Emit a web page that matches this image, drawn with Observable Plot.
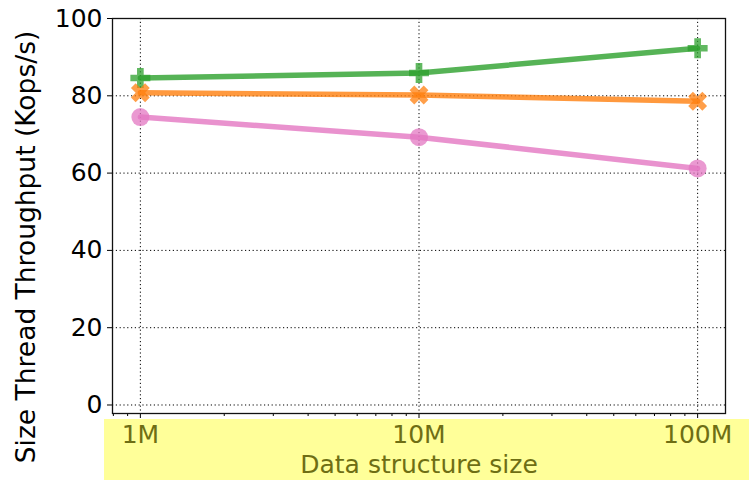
<!DOCTYPE html>
<html>
<head>
<meta charset="utf-8">
<script src="https://cdn.jsdelivr.net/npm/d3@7"></script>
<script src="https://cdn.jsdelivr.net/npm/@observablehq/plot@0.6"></script>
<style>
  html, body { margin: 0; padding: 0; background: white; }
  #chart svg { display: block; }
</style>
</head>
<body>
<div id="chart"></div>
<script>
const sizes = [1e6, 1e7, 1e8];
const sizeLabels = ["1M", "10M", "100M"];
const greenVals = [84.6, 85.9, 92.3];
const orangeVals = [80.8, 80.2, 78.6];
const pinkVals = [74.5, 69.3, 61.2];
const yTicks = [0, 20, 40, 60, 80, 100];
const minorTicks = [8e5, 9e5, 2e6, 3e6, 4e6, 5e6, 6e6, 7e6, 8e6, 9e6, 2e7, 3e7, 4e7, 5e7, 6e7, 7e7, 8e7, 9e7];
const yLabel = "Size Thread Throughput (Kops/s)";
const xLabel = "Data structure size";

const series = [
  {name: "green", color: "#2ca02c", vals: greenVals, shape: "plus"},
  {name: "orange", color: "#ff7f0e", vals: orangeVals, shape: "x"},
  {name: "pink", color: "#e377c2", vals: pinkVals, shape: "circle"}
];

const data = series.flatMap(s => s.vals.map((v, i) => ({series: s.name, size: sizes[i], value: v, color: s.color, shape: s.shape})));

// filled plus (matplotlib "P")
const filledPlus = {
  draw(ctx, size) {
    const r = Math.sqrt(size / Math.PI);
    const t = r / 3;
    ctx.moveTo(-t, -r); ctx.lineTo(t, -r); ctx.lineTo(t, -t); ctx.lineTo(r, -t);
    ctx.lineTo(r, t); ctx.lineTo(t, t); ctx.lineTo(t, r); ctx.lineTo(-t, r);
    ctx.lineTo(-t, t); ctx.lineTo(-r, t); ctx.lineTo(-r, -t); ctx.lineTo(-t, -t);
    ctx.closePath();
  }
};
// filled X (matplotlib "X")
const filledX = {
  draw(ctx, size) {
    const r = Math.sqrt(size / Math.PI);
    const t = r / 3;
    const pts = [[-t, -r], [t, -r], [t, -t], [r, -t], [r, t], [t, t], [t, r], [-t, r], [-t, t], [-r, t], [-r, -t], [-t, -t]];
    const c = Math.cos(Math.PI / 4), s = Math.sin(Math.PI / 4);
    pts.forEach(([x, y], i) => {
      const px = x * c - y * s, py = x * s + y * c;
      if (i === 0) ctx.moveTo(px, py); else ctx.lineTo(px, py);
    });
    ctx.closePath();
  }
};
const symbolFor = {plus: filledPlus, x: filledX, circle: d3.symbolCircle};

const olive = "#6e6e14";
const FS = 25;

const highlight = (index, scales, values, dims) => {
  const g = d3.create("svg:g");
  g.append("rect")
    .attr("x", dims.marginLeft - 8)
    .attr("y", dims.height - dims.marginBottom + 6)
    .attr("width", dims.width - dims.marginLeft + 8)
    .attr("height", dims.marginBottom - 6)
    .attr("fill", "#ffff99");
  return g.node();
};

const marks = [
  highlight,
  Plot.gridX(sizes, {stroke: "black", strokeOpacity: 1, strokeWidth: 1, strokeDasharray: "1.2,2.6"}),
  Plot.gridY(yTicks, {stroke: "black", strokeOpacity: 1, strokeWidth: 1, strokeDasharray: "1.2,2.6"}),
];
for (const s of series) {
  const d = data.filter(r => r.series === s.name);
  marks.push(Plot.line(d, {x: "size", y: "value", stroke: s.color, strokeWidth: 5.5, strokeOpacity: 0.8}));
  marks.push(Plot.dot(d, {x: "size", y: "value", fill: s.color, fillOpacity: 0.75, stroke: "none", r: s.shape === "circle" ? 9 : 10, symbol: symbolFor[s.shape]}));
}
marks.push(
  Plot.axisY({ticks: yTicks, tickSize: 5, tickPadding: 5, fontSize: FS, label: null, stroke: "black"}),
  Plot.axisX({ticks: minorTicks, tickSize: 3, tickFormat: () => "", label: null}),
  Plot.axisX({ticks: sizes, tickSize: 5, tickPadding: 7, fontSize: FS, tickFormat: (d) => sizeLabels[sizes.indexOf(d)], fill: olive, label: null}),
  Plot.frame({stroke: "#111", strokeWidth: 1.3}),
  Plot.text([yLabel], {text: d => d, frameAnchor: "left", rotate: -90, textAnchor: "middle", dx: -86, dy: 31, fontSize: 26.5, fill: "black"}),
  Plot.text([xLabel], {text: d => d, frameAnchor: "bottom", dy: 59, fontSize: FS, fill: olive})
);

const chart = Plot.plot({
  width: 749,
  height: 480,
  marginLeft: 112,
  marginRight: 24,
  marginTop: 18,
  marginBottom: 67,
  style: {fontFamily: "DejaVu Sans", fontSize: FS + "px", background: "white", color: "black"},
  x: {type: "log", domain: [Math.pow(10, 5.9), Math.pow(10, 8.1)]},
  y: {domain: [-2.2, 100]},
  marks
});
document.getElementById("chart").append(chart);
</script>
</body>
</html>
